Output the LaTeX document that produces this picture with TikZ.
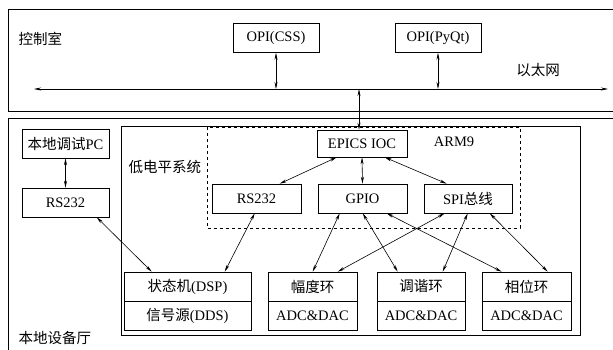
\documentclass[tikz,border=0pt]{standalone}
\usepackage{fontspec}
\setmainfont{Liberation Serif}
\newfontfamily\cjk{Noto Sans CJK SC}
\usetikzlibrary{
    arrows.meta,
    positioning
}

\begin{document}
\begin{tikzpicture}[x=1pt, y=-1pt,
        box/.style={draw, line width=0.6pt, inner sep=0pt, minimum height=29pt,
            font=\fontsize{14.5}{16}\selectfont},
        tag/.style={font=\fontsize{14.5}{16}\selectfont},
        link/.style={line width=0.6pt, {Stealth[length=7pt,width=3pt]}-{Stealth[length=7pt,width=3pt]}}]
                        \useasboundingbox (0,0) rectangle (613,350);

                        % frames
                        \draw[line width=0.6pt] (8,9) rectangle (630,111);
                        \draw[line width=0.6pt] (8,118) rectangle (630,370);
                        \draw[line width=0.6pt] (121,126) rectangle (580,335);
                        \draw[line width=0.6pt, dashed] (207,127) rectangle (520,228);

                        \node[tag, anchor=west] (room) at (15,39) {\cjk 控制室};
                        \node[tag] (eth) at (538,70) {\cjk 以太网};
                        \node[tag, anchor=west] (llrf) at (125,167) {\cjk 低电平系统};
                        \node[tag] (arm) at (454,142) {ARM9};
                        \node[tag, anchor=west] (hall) at (15,338) {\cjk 本地设备厅};

                        \node[box, minimum width=86pt] (css) at (276,38) {OPI(CSS)};
                        \node[box, minimum width=86pt] (pyqt) at (438,38) {OPI(PyQt)};
                        \node[box, minimum width=90pt, minimum height=27pt] (ioc) at (362,143.5) {EPICS IOC};
                        \node[box, minimum width=89pt] (rsin) at (256.5,198.5) {RS232};
                        \node[box, minimum width=89pt] (gpio) at (362.5,198.5) {GPIO};
                        \node[box, minimum width=88pt] (spi) at (468,198.5) {SPI{\cjk 总线}};
                        \node[box, minimum width=87pt] (pc) at (65.5,143.5) {{\cjk 本地调试}PC};
                        \node[box, minimum width=87pt] (rsout) at (65.5,202.5) {RS232};
                        \node[box, minimum width=127pt] (fsm) at (187.5,286.5) {{\cjk 状态机}(DSP)};
                        \node[box, minimum width=127pt] (dds) at (187.5,315.5) {{\cjk 信号源}(DDS)};
                        \node[box, minimum width=89pt] (amp) at (312.5,286.5) {\cjk 幅度环};
                        \node[box, minimum width=89pt] (ampad) at (312.5,315.5) {ADC\&DAC};
                        \node[box, minimum width=88pt] (tune) at (421,286.5) {\cjk 调谐环};
                        \node[box, minimum width=88pt] (tunead) at (421,315.5) {ADC\&DAC};
                        \node[box, minimum width=89pt] (phase) at (526.5,286.5) {\cjk 相位环};
                        \node[box, minimum width=89pt] (phasead) at (526.5,315.5) {ADC\&DAC};

                        % ethernet bus
                        \coordinate (busl) at (34,89);
                        \coordinate (busr) at (608,89);
                        \coordinate (tap) at (359,89);
                        \draw[link] (busl) -- (busr);

                        \draw
                        (css.south) edge[link] (css.south |- busl)
                        (pyqt.south) edge[link] (pyqt.south |- busl)
                        (tap) edge[link] (tap |- ioc.north)
                        (pc.south) edge[link] (rsout.north)
                        ([xshift=75pt]rsout.south west) edge[link] ([xshift=28pt]fsm.north west)
                        ([xshift=43pt]rsin.south west) edge[link] ([xshift=101pt]fsm.north west)
                        ([xshift=20pt]ioc.south west) edge[link] ([xshift=68pt]rsin.north west)
                        (ioc.south) edge[link] (gpio.north)
                        ([xshift=68pt]ioc.south west) edge[link] ([xshift=23pt]spi.north west)
                        ([xshift=22pt]gpio.south west) edge[link] ([xshift=45pt]amp.north west)
                        ([xshift=45pt]gpio.south west) edge[link] ([xshift=21pt]tune.north west)
                        ([xshift=69pt]gpio.south west) edge[link] ([xshift=20pt]phase.north west)
                        ([xshift=21pt]spi.south west) edge[link] ([xshift=70pt]amp.north west)
                        ([xshift=44pt]spi.south west) edge[link] ([xshift=66pt]tune.north west)
                        ([xshift=66pt]spi.south west) edge[link] ([xshift=66pt]phase.north west);
                    \end{tikzpicture}
\end{document}
